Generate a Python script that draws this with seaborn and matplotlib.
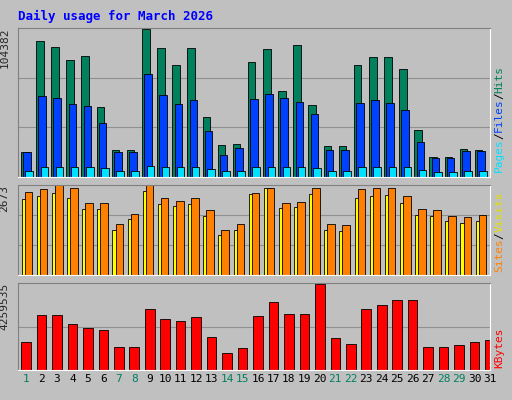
import seaborn as sns
import matplotlib.pyplot as plt
import pandas as pd

days = list(range(1, 32))
weekend = [1, 7, 8, 14, 15, 21, 22, 28, 29]

hits = [17500, 95300, 91100, 82000, 84800, 49000, 18900, 18900, 103700, 90400, 78500,
        90400, 42000, 22400, 23100, 80600, 89700, 60200, 92500, 50400, 21700, 21700,
        78500, 84100, 84100, 75700, 32900, 14000, 14000, 19600, 18900]
files = [17500, 56700, 55300, 51100, 49700, 37800, 17500, 17500, 72200, 57400, 51100,
         53900, 32200, 15400, 20300, 54600, 58100, 55300, 52500, 44100, 18900, 18900,
         51800, 53900, 51800, 46900, 24500, 13300, 13300, 18200, 18200]
pages = [4500, 7000, 7000, 6800, 6800, 6000, 4200, 4200, 7500, 7000, 6800,
         7000, 5800, 4000, 4300, 7000, 7200, 7000, 7000, 6500, 4200, 4200,
         7000, 7000, 7000, 6800, 5000, 3500, 3500, 4200, 4200]
visits = [2465, 2554, 2673, 2584, 2138, 2138, 1515, 1812, 2673, 2287, 2198,
          2287, 1931, 1337, 1515, 2435, 2584, 2138, 2168, 2584, 1515, 1485,
          2554, 2584, 2584, 2346, 1960, 1931, 1752, 1723, 1782]
sites = [2250, 2350, 2450, 2300, 1950, 1950, 1350, 1650, 2480, 2100, 2050,
         2100, 1750, 1200, 1350, 2420, 2570, 2000, 2020, 2400, 1350, 1300,
         2300, 2350, 2380, 2150, 1780, 1750, 1600, 1550, 1600]
kbytes = [1370900, 2692800, 2692800, 2252200, 2056300, 1958400, 1126100, 1126100,
          2986600, 2497000, 2399000, 2594900, 1615700, 832300, 1077100, 2643800,
          3329300, 2741800, 2741800, 4210600, 1566700, 1273000, 2986600, 3182400,
          3427200, 3427200, 1126100, 1126100, 1224000, 1370900, 1468800]

df = pd.DataFrame({"day": days, "kbytes": kbytes})

sns.set_style("white")
plt.rcParams['font.family'] = ['DejaVu Sans Mono']
bg = "#c0c0c0"
fig = plt.figure(figsize=(5.12, 4.0), dpi=100, facecolor=bg)
edge = dict(edgecolor="black", linewidth=0.6)
x = range(len(days))

def panel(rect, top, grid):
    ax = fig.add_axes(rect, facecolor=bg)
    ax.set_xlim(-0.6, len(days) - 0.4)
    ax.set_ylim(0, top)
    for g in grid:
        ax.axhline(top * g, color="#909090", lw=0.8, zorder=0)
    ax.set_yticks([])
    ax.set_xticks([])
    for s in ["top", "left"]:
        ax.spines[s].set_color("#808080")
    for s in ["bottom", "right"]:
        ax.spines[s].set_color("white")
    ax.text(-0.018, 1.0, f"{top}", transform=ax.transAxes, rotation=90,
            ha="right", va="top", fontsize=8)
    return ax

ax1 = panel([0.035, 0.5575, 0.922, 0.3725], 104382, [1/3, 2/3])
ax1.bar([i - 0.15 for i in x], hits, width=0.5, color="#00805c", **edge)
ax1.bar([i + 0.0 for i in x], files, width=0.5, color="#0040ff", **edge)
ax1.bar([i + 0.15 for i in x], pages, width=0.5, color="#00e0ff", **edge)

ax2 = panel([0.035, 0.3125, 0.922, 0.225], 2673, [1/3, 2/3])
ax2.bar([i - 0.1 for i in x], sites, width=0.5, color="#ffff00", **edge)
ax2.bar([i + 0.1 for i in x], visits, width=0.5, color="#ff8000", **edge)

ax3 = panel([0.035, 0.075, 0.922, 0.2175], 4259535, [1/2])
sns.barplot(data=df, x="day", y="kbytes", color="#ff0000", saturation=1,
            width=0.62, ax=ax3, **edge)
ax3.set_xlabel("")
ax3.set_ylabel("")
ax3.set_xticks(list(x))
ax3.set_xticklabels([str(d) for d in days], fontsize=8)
ax3.tick_params(axis="x", length=0, pad=3)
for lbl, d in zip(ax3.get_xticklabels(), days):
    lbl.set_color("#008060" if d in weekend else "black")

fig.text(0.035, 0.975, "Daily usage for March 2026", color="#0000ff",
         fontweight="bold", fontsize=9, ha="left", va="top")

def side(y0, parts):
    y = y0
    for t, c in parts:
        fig.text(0.975, y, t, color=c, rotation=90, fontsize=8, ha="center", va="bottom")
        y += len(t) * 0.0165
side(0.57, [("Pages", "#00e0ff"), ("/", "black"), ("Files", "#0040ff"),
            ("/", "black"), ("Hits", "#00805c")])
side(0.32, [("Sites", "#ff8000"), ("/", "black"), ("Visits", "#e0e000")])
side(0.08, [("KBytes", "#ff0000")])

fig.savefig("out.png", dpi=100, facecolor=bg)
